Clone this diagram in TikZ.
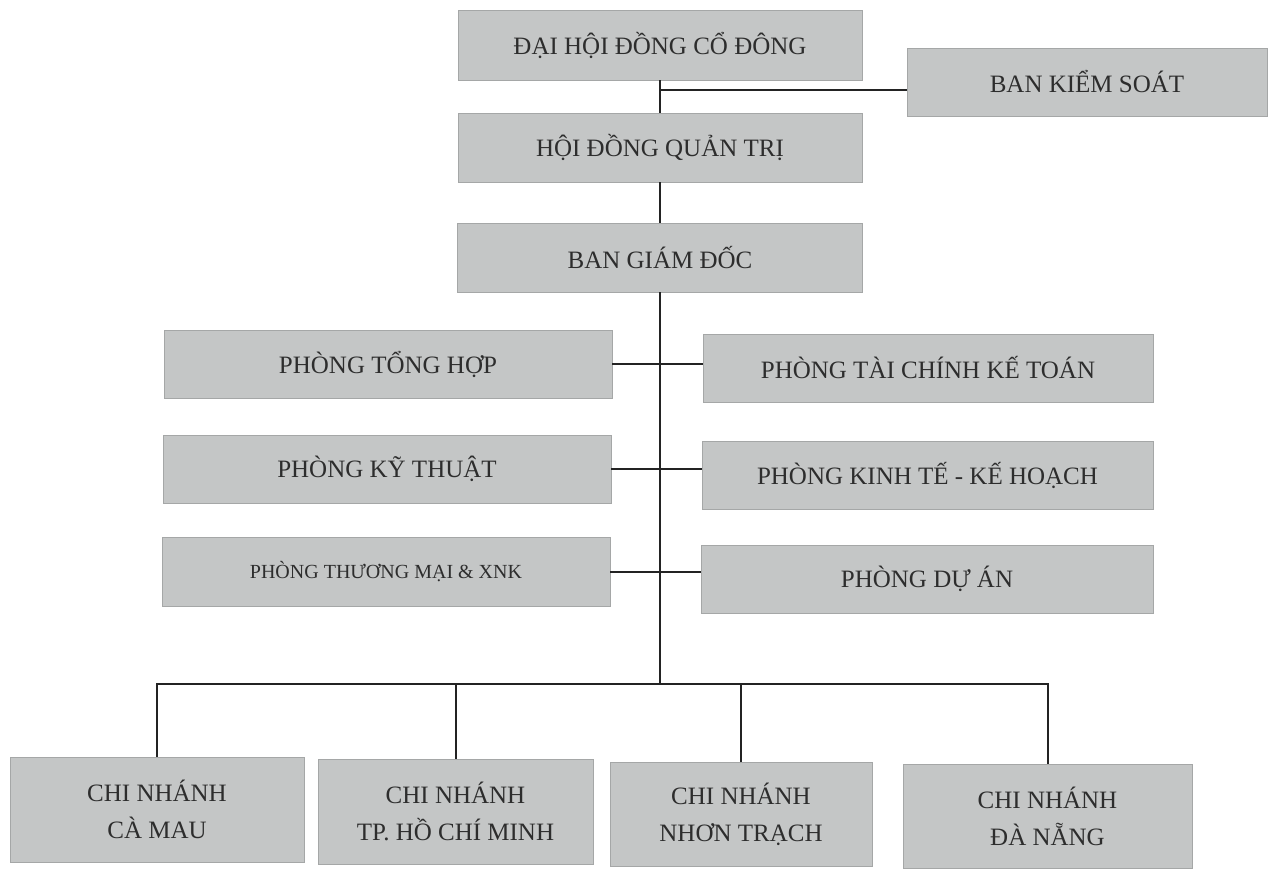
\documentclass[tikz,border=0pt]{standalone}
\usepackage{fontspec}
\setmainfont{Liberation Serif}
\definecolor{boxfill}{RGB}{196,198,198}
\definecolor{boxedge}{RGB}{165,167,167}
\definecolor{ink}{RGB}{45,45,45}
\definecolor{wire}{RGB}{35,35,35}
\begin{document}
\begin{tikzpicture}[x=1pt,y=-1pt,
  unit/.style={rectangle, fill=boxfill, draw=boxedge, line width=0.8pt, text=ink,
    inner sep=0pt, align=center, font=\fontsize{25}{37}\selectfont},
  conn/.style={draw=wire, line width=2pt}]
\useasboundingbox (0,0) rectangle (1272,873);
% top
\node[unit, minimum width=404, minimum height=70] (dhd) at (660,45) {ĐẠI HỘI ĐỒNG CỔ ĐÔNG};
\node[unit, minimum width=360, minimum height=68] (bks) at (1087,82) {BAN KIỂM SOÁT};
\node[unit, minimum width=404, minimum height=69] (hdqt) at (660,147.5) {HỘI ĐỒNG QUẢN TRỊ};
\node[unit, minimum width=405, minimum height=69] (bgd) at (660,257.5) {BAN GIÁM ĐỐC};
% departments
\node[unit, minimum width=448, minimum height=68] (p1) at (388,364) {PHÒNG TỔNG HỢP};
\node[unit, minimum width=450, minimum height=68] (p2) at (928,368) {PHÒNG TÀI CHÍNH KẾ TOÁN};
\node[unit, minimum width=448, minimum height=68] (p3) at (387,469) {PHÒNG KỸ THUẬT};
\node[unit, minimum width=451, minimum height=68] (p4) at (927.5,475) {PHÒNG KINH TẾ - KẾ HOẠCH};
\node[unit, minimum width=448, minimum height=69, font=\fontsize{20}{26}\selectfont] (p5) at (386,571.5) {PHÒNG THƯƠNG MẠI \& XNK};
\node[unit, minimum width=452, minimum height=68] (p6) at (927,579) {PHÒNG DỰ ÁN};
% branches
\node[unit, minimum width=294, minimum height=105] (c1) at (157,809.5) {CHI NHÁNH\\CÀ MAU};
\node[unit, minimum width=275, minimum height=105] (c2) at (455.5,811.5) {CHI NHÁNH\\TP. HỒ CHÍ MINH};
\node[unit, minimum width=262, minimum height=104] (c3) at (741,814) {CHI NHÁNH\\NHƠN TRẠCH};
\node[unit, minimum width=289, minimum height=104] (c4) at (1047.5,816) {CHI NHÁNH\\ĐÀ NẴNG};
% junction coordinates
\coordinate (jb) at (660,90);
\coordinate (bus) at (660,684);
% connectors
\draw[conn] (dhd.south) -- (hdqt.north);
\draw[conn] (jb) -- (jb -| bks.west);
\draw[conn] (hdqt.south) -- (bgd.north);
\draw[conn] (bgd.south) -- (bus);
\draw[conn] (p1.east) -- (p1.east -| p2.west);
\draw[conn] (p3.east) -- (p3.east -| p4.west);
\draw[conn] (p5.east) -- (p5.east -| p6.west);
\draw[conn] (c1.north) -- (c1.north |- bus) -- (c4.north |- bus) -- (c4.north);
\draw[conn] (c2.north) -- (c2.north |- bus);
\draw[conn] (c3.north) -- (c3.north |- bus);
\end{tikzpicture}
\end{document}
